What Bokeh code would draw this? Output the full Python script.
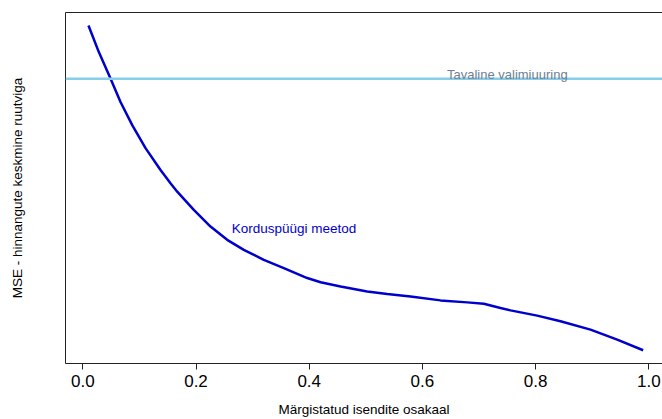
from bokeh.plotting import figure
from bokeh.models import LinearAxis, FixedTicker, Span, Range1d, Label, NumeralTickFormatter
from bokeh.embed import file_html
from bokeh.resources import INLINE

# Data
share = [0.01, 0.0283, 0.0489, 0.0666, 0.0873, 0.1108, 0.1373, 0.1549,
         0.1668, 0.1961, 0.2256, 0.2551, 0.2845, 0.3198, 0.3551, 0.3965, 0.4201,
         0.4554, 0.5025, 0.5378, 0.579, 0.632, 0.6792, 0.7085, 0.738, 0.7557,
         0.8028, 0.844, 0.897, 0.9442, 0.99]
mse_resample = [3.75, 3.483, 3.217, 2.983, 2.75, 2.52, 2.30, 2.167,
                2.083, 1.90, 1.733, 1.60, 1.50, 1.40, 1.317, 1.217, 1.175,
                1.133, 1.083, 1.057, 1.033, 0.993, 0.973, 0.96, 0.917, 0.893,
                0.84, 0.783, 0.70, 0.60, 0.493]
mse_simple = 3.215
x_ticks = [0.0, 0.2, 0.4, 0.6, 0.8, 1.0]
label_simple = "Tavaline valimiuuring"
label_resample = "Korduspüügi meetod"
x_title = "Märgistatud isendite osakaal"
y_title = "MSE - hinnangute keskmine ruutviga"

FONT = "Liberation Sans"
W, H = 662, 419

p = figure(width=W, height=H, output_backend="svg", toolbar_location=None,
           x_range=Range1d(-0.0306, 1.0242), y_range=Range1d(0.36, 3.88),
           min_border_left=65, min_border_right=0, min_border_top=12,
           min_border_bottom=55, x_axis_location=None, y_axis_location=None)
p.outline_line_color = None
p.grid.visible = False
p.background_fill_color = "white"
p.border_fill_color = "white"

xa = LinearAxis(ticker=FixedTicker(ticks=x_ticks), axis_label=x_title,
                formatter=NumeralTickFormatter(format="0.0"))
xa.axis_line_color = "#222222"
xa.major_tick_line_color = "#222222"
xa.minor_tick_line_color = None
xa.major_tick_in = 0
xa.major_tick_out = 6
xa.major_label_standoff = 5
xa.major_label_text_font = FONT
xa.major_label_text_font_size = "17px"
xa.major_label_text_color = "black"
xa.axis_label_text_font = FONT
xa.axis_label_text_font_size = "13.5px"
xa.axis_label_text_font_style = "normal"
xa.axis_label_text_color = "black"
xa.axis_label_standoff = 12
p.add_layout(xa, "below")

ya = LinearAxis(ticker=FixedTicker(ticks=[]), axis_label=y_title)
ya.axis_line_color = "#222222"
ya.major_tick_line_color = None
ya.minor_tick_line_color = None
ya.major_tick_in = 0
ya.major_tick_out = 0
ya.major_label_standoff = 0
ya.major_label_text_font_size = "0px"
ya.axis_label_text_font = FONT
ya.axis_label_text_font_size = "13.5px"
ya.axis_label_text_font_style = "normal"
ya.axis_label_text_color = "black"
ya.axis_label_standoff = 41
p.add_layout(ya, "left")

ta = LinearAxis(ticker=FixedTicker(ticks=[]))
ta.axis_line_color = "#222222"
ta.major_tick_line_color = None
ta.minor_tick_line_color = None
ta.major_tick_in = 0
ta.major_tick_out = 0
ta.major_label_standoff = 0
ta.major_label_text_font_size = "0px"
p.add_layout(ta, "above")

p.add_layout(Span(location=mse_simple, dimension="width",
                  line_color="#87CEEB", line_width=2.5))
p.line(share, mse_resample, line_color="#0000CD", line_width=2.5)

p.add_layout(Label(x=0.75, y=mse_simple + 0.04, text=label_simple,
                   text_font=FONT, text_font_size="13px", text_color="#708090",
                   text_align="center", text_baseline="middle"))
p.add_layout(Label(x=0.373, y=1.71, text=label_resample,
                   text_font=FONT, text_font_size="13.5px", text_color="#0000CD",
                   text_align="center", text_baseline="middle"))

open("out.html", "w").write(file_html(p, INLINE))
